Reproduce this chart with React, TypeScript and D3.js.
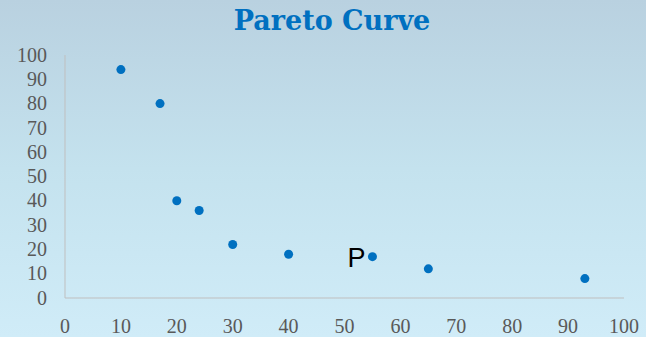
import React from "react";
import * as d3 from "d3";

const xValues = [10, 17, 20, 24, 30, 40, 55, 65, 93];
const yValues = [94, 80, 40, 36, 22, 18, 17, 12, 8];
const xTicks = [0, 10, 20, 30, 40, 50, 60, 70, 80, 90, 100];
const yTicks = [0, 10, 20, 30, 40, 50, 60, 70, 80, 90, 100];
const title = "Pareto Curve";
const labelText = "P";
const labelIndex = 6;

export default function App() {
  const W = 646, H = 337;
  const x = d3.scaleLinear().domain([0, 100]).range([65, 624]);
  const y = d3.scaleLinear().domain([0, 100]).range([298, 55]);
  const pts = xValues.map((v, i) => ({ x: v, y: yValues[i] }));
  const tickFont = "'Liberation Serif', serif";
  return (
    <svg width={W} height={H} style={{ position: "absolute", left: 0, top: 0 }}>
      <defs>
        <linearGradient id="bg" x1="0" y1="0" x2="0" y2="1">
          <stop offset="0" stopColor="#b9d1e0" />
          <stop offset="0.5" stopColor="#c4e2ee" />
          <stop offset="1" stopColor="#d0ecf8" />
        </linearGradient>
      </defs>
      <rect x={0} y={0} width={W} height={H} fill="url(#bg)" />
      <text x={332} y={30} textAnchor="middle" fontFamily="'DejaVu Serif', serif" fontWeight="bold" fontSize={27} fill="#0070c0">{title}</text>
      <line x1={x(0)} x2={x(0)} y1={y(100)} y2={y(0)} stroke="#bfbfbf" strokeWidth={1} />
      <line x1={x(0)} x2={x(100)} y1={y(0)} y2={y(0)} stroke="#bfbfbf" strokeWidth={1} />
      {yTicks.map(t => (
        <text key={"y" + t} x={47} y={y(t)} dy="0.33em" textAnchor="end" fontFamily={tickFont} fontSize={20} fill="#595959">{t}</text>
      ))}
      {xTicks.map(t => (
        <text key={"x" + t} x={x(t)} y={333} textAnchor="middle" fontFamily={tickFont} fontSize={20} fill="#595959">{t}</text>
      ))}
      {pts.map((p, i) => (
        <circle key={i} cx={x(p.x)} cy={y(p.y)} r={4.5} fill="#0070c0" />
      ))}
      <text x={x(pts[labelIndex].x) - 7} y={y(pts[labelIndex].y) + 10} textAnchor="end" fontFamily="'Liberation Sans', Arial, sans-serif" fontSize={27} fill="#000">{labelText}</text>
    </svg>
  );
}
